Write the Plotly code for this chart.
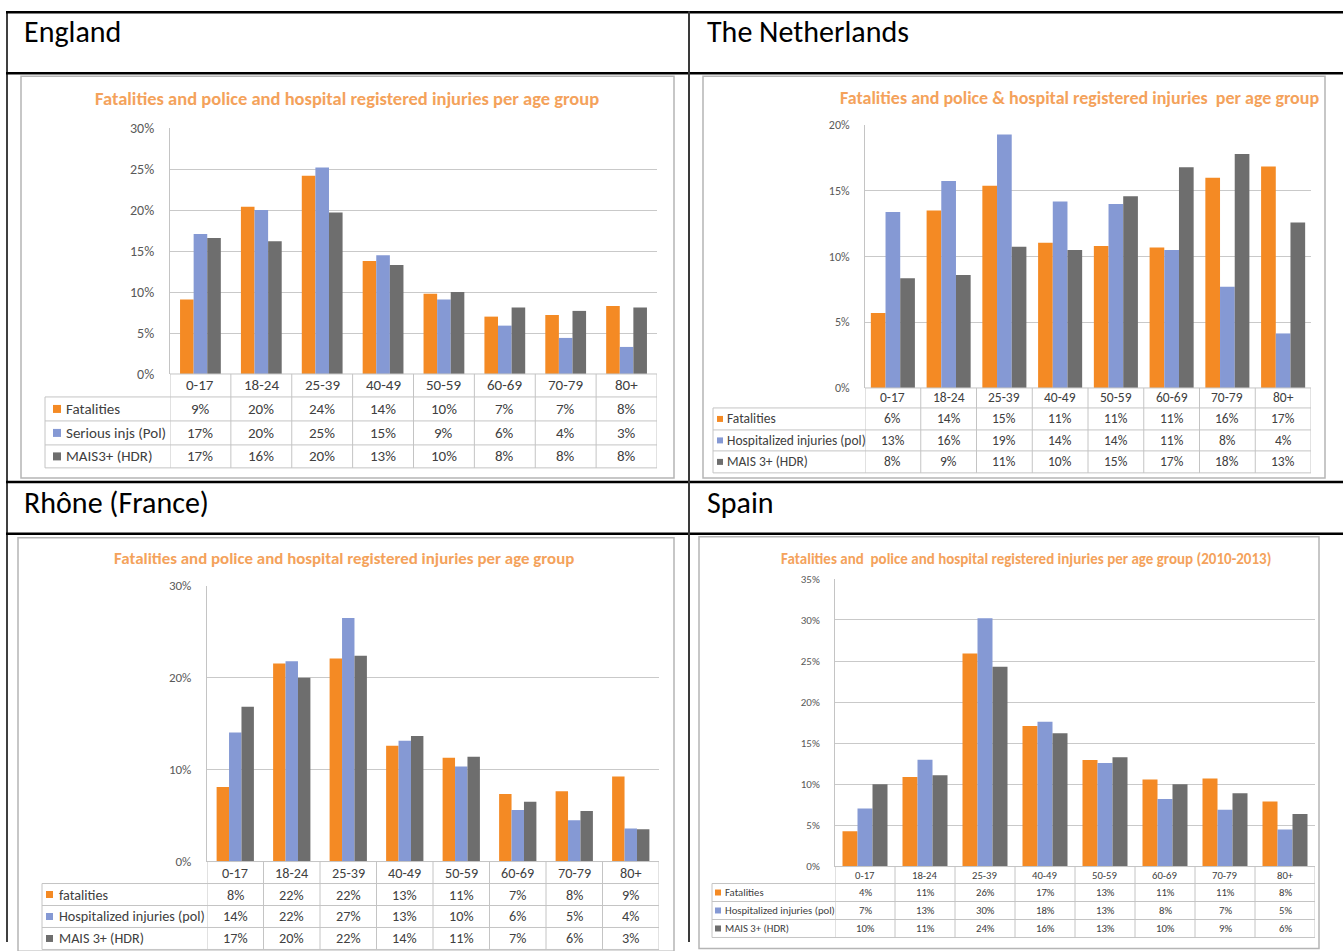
import plotly.graph_objects as go

W, H = 1343, 951

age_groups = ["0-17", "18-24", "25-39", "40-49", "50-59", "60-69", "70-79", "80+"]

# ---------------- England ----------------
eng_labels = ["Fatalities", "Serious injs (Pol)", "MAIS3+ (HDR)"]
eng_fatal = [9.1, 20.4, 24.2, 13.8, 9.8, 7.0, 7.2, 8.3]
eng_pol = [17.1, 20.0, 25.2, 14.5, 9.1, 5.9, 4.4, 3.3]
eng_hdr = [16.6, 16.2, 19.7, 13.3, 10.0, 8.1, 7.7, 8.1]
eng_fatal_tbl = [9, 20, 24, 14, 10, 7, 7, 8]
eng_pol_tbl = [17, 20, 25, 15, 9, 6, 4, 3]
eng_hdr_tbl = [17, 16, 20, 13, 10, 8, 8, 8]

# ---------------- The Netherlands ----------------
nl_labels = ["Fatalities", "Hospitalized injuries (pol)", "MAIS 3+ (HDR)"]
nl_fatal = [5.7, 13.5, 15.4, 11.05, 10.8, 10.7, 16.0, 16.85]
nl_pol = [13.4, 15.75, 19.3, 14.2, 14.0, 10.5, 7.7, 4.15]
nl_hdr = [8.35, 8.6, 10.75, 10.5, 14.6, 16.8, 17.8, 12.6]
nl_fatal_tbl = [6, 14, 15, 11, 11, 11, 16, 17]
nl_pol_tbl = [13, 16, 19, 14, 14, 11, 8, 4]
nl_hdr_tbl = [8, 9, 11, 10, 15, 17, 18, 13]

# ---------------- Rhône (France) ----------------
fr_labels = ["fatalities", "Hospitalized injuries (pol)", "MAIS 3+ (HDR)"]
fr_fatal = [8.1, 21.55, 22.1, 12.6, 11.3, 7.35, 7.65, 9.25]
fr_pol = [14.05, 21.8, 26.5, 13.15, 10.35, 5.6, 4.5, 3.6]
fr_hdr = [16.85, 20.0, 22.4, 13.65, 11.4, 6.5, 5.5, 3.5]
fr_fatal_tbl = [8, 22, 22, 13, 11, 7, 8, 9]
fr_pol_tbl = [14, 22, 27, 13, 10, 6, 5, 4]
fr_hdr_tbl = [17, 20, 22, 14, 11, 7, 6, 3]

# ---------------- Spain ----------------
es_labels = ["Fatalities", "Hospitalized injuries (pol)", "MAIS 3+ (HDR)"]
es_fatal = [4.3, 10.9, 25.9, 17.1, 12.95, 10.6, 10.7, 7.9]
es_pol = [7.05, 13.0, 30.2, 17.6, 12.6, 8.2, 6.9, 4.5]
es_hdr = [10.0, 11.1, 24.3, 16.2, 13.3, 10.0, 8.9, 6.4]
es_fatal_tbl = [4, 11, 26, 17, 13, 11, 11, 8]
es_pol_tbl = [7, 13, 30, 18, 13, 8, 7, 5]
es_hdr_tbl = [10, 11, 24, 16, 13, 10, 9, 6]

COLORS = ["#F48A24", "#8599D4", "#6E6E6E"]
TITLE_COLOR = "#F4A25B"
TEXT = "#404040"
GRID = "#C9C9C9"
TLINE = "#C4C4C4"
FONT = "Calibri, Carlito, Lato, sans-serif"


def X(px):
    return px / W


def Y(py):
    q = (py - 6.7) / 0.983
    return 1 - q / H


panels = [
    dict(header="England", hx=22, hy=30,
         title="Fatalities and police and hospital registered injuries per age group",
         tx=347, ty=97, tsize=18.5,
         frame=(21, 75, 674, 477),
         px=(170, 657), py0=373, ptop=127, ymax=30, dtick=5,
         rows=[373, 396, 420, 444, 467], tleft=45, sq=8, sqx=53, labx=64,
         ticksize=14, tblsize=15, group=0.67,
         labels=eng_labels, series=[eng_fatal, eng_pol, eng_hdr],
         tables=[eng_fatal_tbl, eng_pol_tbl, eng_hdr_tbl]),
    dict(header="The Netherlands", hx=705, hy=30,
         title="Fatalities and police &amp; hospital registered injuries  per age group",
         tx=1079, ty=97, tsize=18,
         frame=(703, 75, 1325, 477),
         px=(865, 1311), py0=387, ptop=124, ymax=20, dtick=5,
         rows=[387, 407, 429, 450, 472], tleft=713, sq=6, sqx=717, labx=725,
         ticksize=12, tblsize=13.5, group=0.79,
         labels=nl_labels, series=[nl_fatal, nl_pol, nl_hdr],
         tables=[nl_fatal_tbl, nl_pol_tbl, nl_hdr_tbl]),
    dict(header="Rhône (France)", hx=22, hy=502,
         title="Fatalities and police and hospital registered injuries per age group",
         tx=344, ty=558, tsize=16.9,
         frame=(18, 537, 674, 960),
         px=(207, 659), py0=861, ptop=585, ymax=30, dtick=10,
         rows=[861, 883, 905, 927, 949], tleft=42, sq=7, sqx=46, labx=57,
         ticksize=13, tblsize=14.2, group=0.66,
         labels=fr_labels, series=[fr_fatal, fr_pol, fr_hdr],
         tables=[fr_fatal_tbl, fr_pol_tbl, fr_hdr_tbl]),
    dict(header="Spain", hx=705, hy=502,
         title="Fatalities and  police and hospital registered injuries per age group (2010-2013)",
         tx=1026, ty=558, tsize=15,
         frame=(699, 536, 1319, 948),
         px=(835, 1315), py0=866, ptop=578, ymax=35, dtick=5,
         rows=[866, 883, 901, 919, 937], tleft=712, sq=6, sqx=715, labx=723,
         ticksize=11, tblsize=10.7, group=0.75,
         labels=es_labels, series=[es_fatal, es_pol, es_hdr],
         tables=[es_fatal_tbl, es_pol_tbl, es_hdr_tbl]),
]

fig = go.Figure()
shapes = []
annotations = []
layout_axes = {}

# outer document-table lines
for yy in [11, 72, 481, 533]:
    shapes.append(dict(type="line", xref="paper", yref="paper", x0=X(6), x1=X(1343), y0=Y(yy), y1=Y(yy),
                       line=dict(color="#000000", width=2.5)))
shapes.append(dict(type="line", xref="paper", yref="paper", x0=X(7), x1=X(7), y0=Y(10), y1=0,
                   line=dict(color="#000000", width=1.5)))
shapes.append(dict(type="line", xref="paper", yref="paper", x0=X(689), x1=X(689), y0=Y(10), y1=0,
                   line=dict(color="#3A3A3A", width=2)))

for k, p in enumerate(panels):
    n = "" if k == 0 else str(k + 1)
    xa, ya = "x" + n, "y" + n
    px0, px1 = p["px"]
    layout_axes["xaxis" + n] = dict(domain=[X(px0), X(px1)], anchor=ya, type="category",
                                    categoryorder="array", categoryarray=age_groups,
                                    range=[-0.5, 7.5], showticklabels=False, showgrid=False,
                                    zeroline=False, showline=False, ticks="", fixedrange=True)
    layout_axes["yaxis" + n] = dict(domain=[Y(p["py0"]), Y(p["ptop"])], anchor=xa,
                                    range=[0, p["ymax"]], dtick=p["dtick"], tick0=0,
                                    ticksuffix="%", showgrid=True, gridcolor=GRID, gridwidth=1,
                                    zeroline=False, showline=True, linecolor=TLINE, linewidth=1,
                                    ticks="", ticklabelstandoff=12,
                                    tickfont=dict(size=p["ticksize"], color="#595959", family=FONT),
                                    fixedrange=True)
    bw = p["group"] / 3
    for s, (vals, lab) in enumerate(zip(p["series"], p["labels"])):
        fig.add_trace(go.Bar(x=age_groups, y=vals, name=lab, xaxis=xa, yaxis=ya,
                             marker=dict(color=COLORS[s], line=dict(width=0)),
                             width=bw, offset=-1.5 * bw + s * bw, showlegend=False))

    # chart image frame
    fx0, fy0, fx1, fy1 = p["frame"]
    shapes.append(dict(type="rect", xref="paper", yref="paper", x0=X(fx0), x1=X(fx1),
                       y0=Y(fy0), y1=max(Y(fy1), -0.01),
                       line=dict(color="#B5B5B5", width=1.5), layer="below"))

    # header text
    annotations.append(dict(text=p["header"], xref="paper", yref="paper", x=X(p["hx"]), y=Y(p["hy"]),
                            xanchor="left", yanchor="middle", showarrow=False,
                            font=dict(size=30, color="#000000", family=FONT)))
    # chart title
    annotations.append(dict(text="<b>" + p["title"] + "</b>", xref="paper", yref="paper", x=X(p["tx"]),
                            y=Y(p["ty"]), xanchor="center", yanchor="middle", showarrow=False,
                            font=dict(size=p["tsize"], color=TITLE_COLOR, family=FONT)))

    rows = p["rows"]
    # table horizontal lines
    shapes.append(dict(type="line", xref="paper", yref="paper", x0=X(px0), x1=X(px1), y0=Y(rows[0]), y1=Y(rows[0]),
                       line=dict(color=TLINE, width=1)))
    for r in rows[1:]:
        shapes.append(dict(type="line", xref="paper", yref="paper", x0=X(p["tleft"]), x1=X(px1), y0=Y(r), y1=Y(r),
                           line=dict(color=TLINE, width=1)))
    # table vertical lines
    shapes.append(dict(type="line", xref="paper", yref="paper", x0=X(p["tleft"]), x1=X(p["tleft"]),
                       y0=Y(rows[1]), y1=Y(rows[-1]), line=dict(color=TLINE, width=1)))
    for i in range(len(age_groups) + 1):
        shapes.append(dict(type="line", xref=xa, yref="paper", x0=i - 0.5, x1=i - 0.5,
                           y0=Y(rows[0]), y1=Y(rows[-1]), line=dict(color=TLINE, width=1)))
    # category labels
    cy = (rows[0] + rows[1]) / 2
    for g in age_groups:
        annotations.append(dict(text=g, xref=xa, yref="paper", x=g, y=Y(cy), xanchor="center",
                                yanchor="middle", showarrow=False,
                                font=dict(size=p["tblsize"], color=TEXT, family=FONT)))
    # series rows
    for s in range(3):
        ry = (rows[s + 1] + rows[s + 2]) / 2
        sq = p["sq"]
        shapes.append(dict(type="rect", xref="paper", yref="paper",
                           x0=X(p["sqx"]), x1=X(p["sqx"] + sq), y0=Y(ry - sq / 2), y1=Y(ry + sq / 2),
                           fillcolor=COLORS[s], line=dict(width=0)))
        annotations.append(dict(text=p["labels"][s], xref="paper", yref="paper", x=X(p["labx"]), y=Y(ry),
                                xanchor="left", yanchor="middle", showarrow=False,
                                font=dict(size=p["tblsize"], color=TEXT, family=FONT)))
        for g, v in zip(age_groups, p["tables"][s]):
            annotations.append(dict(text=f"{v}%", xref=xa, yref="paper", x=g, y=Y(ry), xanchor="center",
                                    yanchor="middle", showarrow=False,
                                    font=dict(size=p["tblsize"], color=TEXT, family=FONT)))

fig.update_layout(width=W, height=H, margin=dict(l=0, r=0, t=0, b=0),
                  paper_bgcolor="white", plot_bgcolor="white", barmode="overlay",
                  font=dict(family=FONT), shapes=shapes, annotations=annotations,
                  showlegend=False, **layout_axes)

fig.write_html("out.html",
               post_script="document.body.style.margin='0';document.body.style.padding='0';"
                           "document.body.style.overflow='hidden';")
